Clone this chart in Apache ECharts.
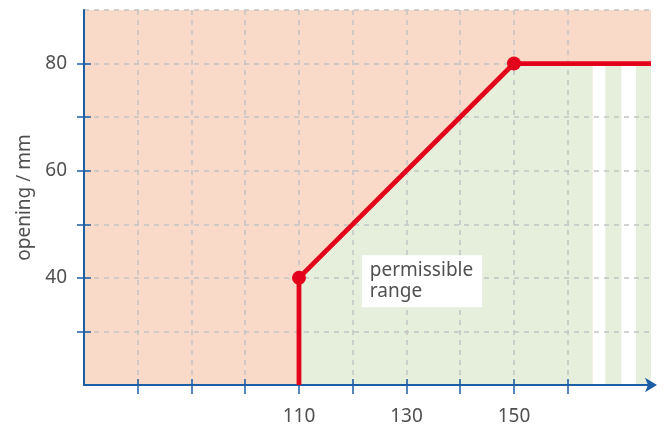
<!DOCTYPE html>
<html>
<head>
<meta charset="utf-8">
<script src="https://cdn.jsdelivr.net/npm/echarts@6/dist/echarts.min.js"></script>
<style>
    html, body { margin: 0; padding: 0; background: #ffffff; }
    #chart { width: 669px; height: 430px; }
</style>
</head>
<body>
<div id="chart"></div>
<script>
// boundary of the permissible range (red line)
var boundaryX = [110, 110, 150, 175.5];
var boundaryY = [20, 40, 80, 80];
// corner points with dots
var dotX = [110, 150];
var dotY = [40, 80];
// green fill below the line, then the striped fade-out
var greenX = [110, 150, 164.6];
var greenY = [40, 80, 80];
var stripeFrom = [167, 172.7];
var stripeTo = [170, 175.5];
// axis ticks and labels
var xTicks = [80, 90, 100, 110, 120, 130, 140, 150, 160];
var xLabels = [110, 130, 150];
var yTicks = [30, 40, 50, 60, 70, 80];
var yLabels = [40, 60, 80];
var yTopLine = [90];

var blue = "#1c5ea6";
var red = "#e3001b";
var green = "#e6eedc";
var salmon = "#f9d9c8";
var textCol = "#505050";
var font = "Noto Sans";
var gridLine = { show: true, lineStyle: { color: "#c4c4c4", type: [5, 5], width: 1.5 } };

function pairs(xs, ys) {
    var out = [];
    for (var i = 0; i < xs.length; i++) {
        out.push([xs[i], ys[i]]);
    }
    return out;
}

function stripeAreas() {
    var out = [];
    for (var i = 0; i < stripeFrom.length; i++) {
        out.push([{ coord: [stripeFrom[i], 20] }, { coord: [stripeTo[i], 80] }]);
    }
    return out;
}

var container = echarts.init(document.getElementById("chart"));

var option = {
    animation: false,
    grid: {
        left: 84, top: 10, right: 18, bottom: 45,
        show: true, backgroundColor: salmon, borderWidth: 0
    },
    xAxis: [
        {
            type: "value", min: 70, max: 175.5, z: 5,
            axisLine: { lineStyle: { color: blue, width: 2 }, symbol: ["none", "arrow"], symbolSize: [11, 12], symbolOffset: [0, 6] },
            axisTick: { customValues: xTicks, length: 9, lineStyle: { color: blue, width: 1.5 } },
            axisLabel: { customValues: xLabels, margin: 22, color: textCol, fontSize: 19, fontFamily: font },
            splitLine: gridLine
        },
        {
            type: "value", min: 70, max: 175.5, z: 5, position: "bottom",
            axisLine: { show: false },
            axisTick: { customValues: xTicks, inside: true, length: 6, lineStyle: { color: blue, width: 1.5 } },
            axisLabel: { show: false },
            splitLine: { show: false }
        }
    ],
    yAxis: [
        {
            type: "value", min: 20, max: 90, z: 5,
            name: "opening / mm", nameLocation: "middle", nameGap: 50,
            nameTextStyle: { color: textCol, fontSize: 19, fontFamily: font },
            axisLine: { show: true, lineStyle: { color: blue, width: 2 } },
            axisTick: { customValues: yTicks, length: 7, lineStyle: { color: blue, width: 1.5 } },
            axisLabel: { customValues: yLabels, margin: 17, color: textCol, fontSize: 19, fontFamily: font },
            splitLine: gridLine
        },
        {
            type: "value", min: 20, max: 90, z: 5, position: "left",
            axisLine: { show: false },
            axisTick: { show: true, customValues: yTicks, inside: true, length: 7, lineStyle: { color: blue, width: 1.5 } },
            axisLabel: { show: false },
            splitLine: { show: false }
        },
        {
            type: "value", min: 20, max: 90, z: 5, position: "left",
            axisLine: { show: false },
            axisTick: { show: false, customValues: yTopLine },
            axisLabel: { show: false },
            splitLine: gridLine
        }
    ],
    series: [
        {
            // white gap area where the green fades out
            type: "line", z: 1, silent: true, symbol: "none",
            data: [],
            markArea: {
                silent: true,
                itemStyle: { color: "#ffffff" },
                data: [[{ coord: [greenX[greenX.length - 1], 20] }, { coord: [175.5, 80] }]]
            }
        },
        {
            type: "line", z: 2, silent: true, symbol: "none",
            data: pairs(greenX, greenY),
            lineStyle: { width: 0 },
            areaStyle: { color: green, opacity: 1, origin: "start" },
            markArea: {
                silent: true,
                itemStyle: { color: green },
                data: stripeAreas()
            }
        },
        {
            type: "line", z: 10, silent: true, symbol: "none",
            data: pairs(boundaryX, boundaryY),
            lineStyle: { color: red, width: 4.8, cap: "butt", join: "round" }
        },
        {
            type: "scatter", z: 11, silent: true,
            data: pairs(dotX, dotY),
            symbolSize: 14,
            itemStyle: { color: red, opacity: 1 }
        },
        {
            type: "scatter", z: 12, silent: true,
            data: [[121.7, 44.2]],
            symbolSize: 0,
            itemStyle: { opacity: 1 },
            label: {
                show: true, position: [0, 0],
                formatter: "permissible\nrange",
                backgroundColor: "#ffffff",
                padding: [5, 9, 5, 8],
                color: textCol, fontSize: 19, fontFamily: font, lineHeight: 21
            }
        }
    ]
};
container.setOption(option);
</script>
</body>
</html>
